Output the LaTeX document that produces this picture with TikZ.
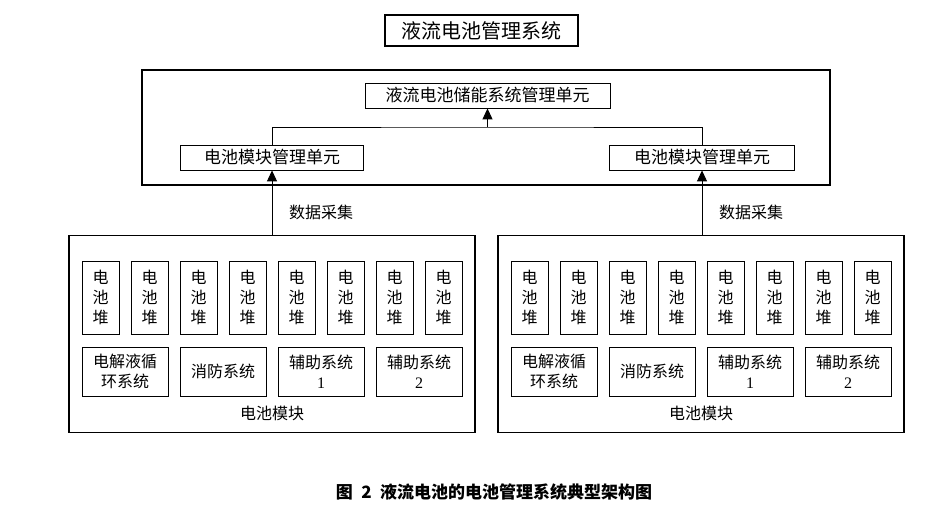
\documentclass[tikz,border=0pt]{standalone}
\usepackage{fontspec}
\setmainfont{Liberation Serif}
\newfontfamily\cjk{Noto Sans CJK SC}
\usetikzlibrary{arrows.meta}
\begin{document}
\begin{tikzpicture}[x=1pt,y=-1pt,
  bx/.style={draw,line width=0.8pt,inner sep=0pt,align=center,font=\fontsize{16}{20}\selectfont\cjk},
  thick box/.style={draw,line width=1.3pt,inner sep=0pt},
  arr/.style={line width=0.9pt,-{Triangle[length=11pt,width=10pt]}},
  conn/.style={line width=0.9pt},
  lbl/.style={inner sep=0pt,font=\fontsize{16}{20}\selectfont\cjk}]
\useasboundingbox (0,0) rectangle (952,511);
% title
\node[thick box,minimum width=193pt,minimum height=31pt,font=\fontsize{20}{24}\selectfont\cjk] (title) at (481.5,30.5) {液流电池管理系统};
% management area
\node[thick box,minimum width=688pt,minimum height=115pt] (outer) at (486,127.5) {};
\node[bx,minimum width=245pt,minimum height=25pt,font=\fontsize{17}{20}\selectfont\cjk] (ess) at (487.5,95.5) {液流电池储能系统管理单元};
\node[bx,minimum width=183pt,minimum height=25pt,font=\fontsize{17}{20}\selectfont\cjk] (bmuL) at (272,157.5) {电池模块管理单元};
\node[bx,minimum width=185pt,minimum height=25pt,font=\fontsize{17}{20}\selectfont\cjk] (bmuR) at (702,157.5) {电池模块管理单元};
\coordinate (j) at (487.5,127);
\draw[conn] (bmuL.north) |- (j) -| (bmuR.north);
\draw[arr] (j) -- (ess.south);
% modules
\foreach \side/\dx in {L/0,R/429}{
  \node[thick box,minimum width=406pt,minimum height=197pt] (mod\side) at (272+\dx,334) {};
  \foreach \i in {0,...,7}{
    \node[bx,minimum width=37pt,minimum height=73pt] (st\side\i) at (100.5+\dx+49*\i,297.5) {电\\池\\堆};
  }
  \node[bx,minimum width=86pt,minimum height=49pt] (el\side) at (125+\dx,371.5) {电解液循\\环系统};
  \node[bx,minimum width=86pt,minimum height=49pt] (fp\side) at (223+\dx,371.5) {消防系统};
  \node[bx,minimum width=86pt,minimum height=49pt] (auxa\side) at (321+\dx,371.5) {辅助系统\\{\rmfamily 1}};
  \node[bx,minimum width=86pt,minimum height=49pt] (auxb\side) at (419+\dx,371.5) {辅助系统\\{\rmfamily 2}};
  \node[lbl] (ml\side) at (272+\dx,413) {电池模块};
}
\draw[arr] (bmuL.south |- modL.north) -- (bmuL.south);
\draw[arr] (bmuR.south |- modR.north) -- (bmuR.south);
\node[lbl] (dL) at (321,212) {数据采集};
\node[lbl] (dR) at (751,212) {数据采集};
% caption
\node[inner sep=0pt,font=\fontsize{17}{20}\selectfont\cjk\bfseries] (cap) at (494,492) {图\enspace 2\enspace 液流电池的电池管理系统典型架构图};
\end{tikzpicture}
\end{document}
